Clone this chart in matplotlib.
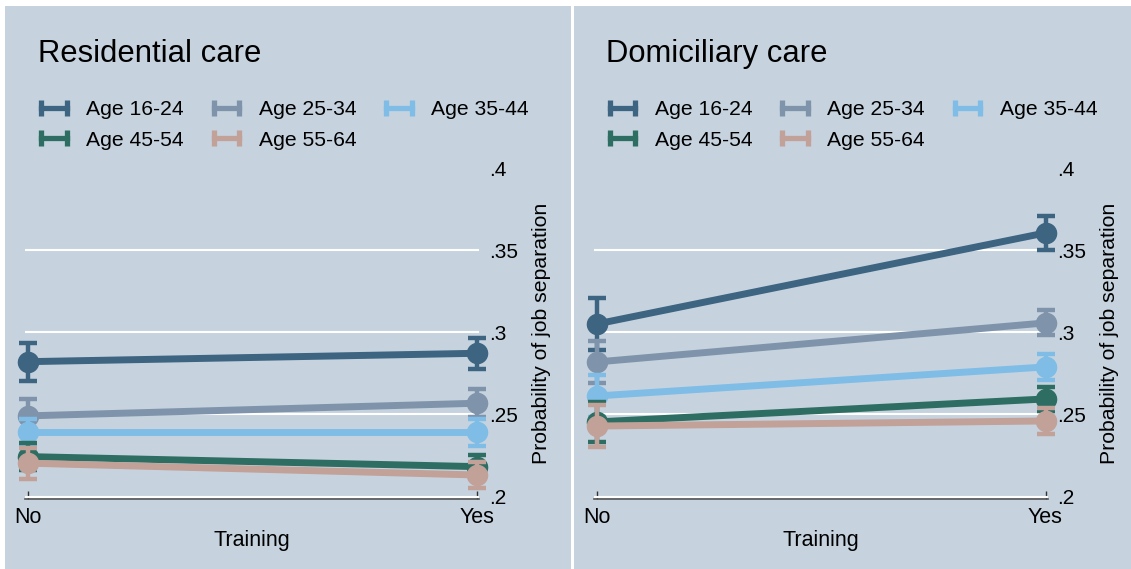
import matplotlib
matplotlib.use("Agg")
import matplotlib.pyplot as plt
from matplotlib.lines import Line2D
from matplotlib.patches import Rectangle

plt.rcParams['font.family'] = ['Liberation Sans', 'DejaVu Sans']

# ---- data ----
training = ["No", "Yes"]
age_groups = ["Age 16-24", "Age 25-34", "Age 35-44", "Age 45-54", "Age 55-64"]
colors = ["#3d6480", "#7f94ab", "#80bde6", "#2e6e62", "#c2a199"]

res_no = [0.2821, 0.2491, 0.2390, 0.2243, 0.2203]
res_yes = [0.2872, 0.2568, 0.2390, 0.2182, 0.2131]
res_ci_no = [0.0115, 0.0100, 0.0080, 0.0080, 0.0095]
res_ci_yes = [0.0094, 0.0085, 0.0083, 0.0070, 0.0080]

dom_no = [0.3050, 0.2819, 0.2612, 0.2454, 0.2429]
dom_yes = [0.3605, 0.3057, 0.2789, 0.2594, 0.2460]
dom_ci_no = [0.0160, 0.0130, 0.0130, 0.0120, 0.0130]
dom_ci_yes = [0.0103, 0.0076, 0.0080, 0.0072, 0.0080]

yticks = [0.2, 0.25, 0.3, 0.35, 0.4]
ytick_labels = [".2", ".25", ".3", ".35", ".4"]
panel_titles = ["Residential care", "Domiciliary care"]
ylabel = "Probability of job separation"
xlabel = "Training"

W, H = 1131, 569
BG = "#c6d3df"
fig = plt.figure(figsize=(W / 100, H / 100), dpi=100)
fig.patch.set_facecolor("white")


def fx(px):
    return px / W


def fy(py):
    return 1 - py / H


panels = [
    (res_no, res_yes, res_ci_no, res_ci_yes),
    (dom_no, dom_yes, dom_ci_no, dom_ci_yes),
]

# legend entries in row-major order for a 3-column legend
leg_order = [0, 3, 1, 4, 2]

for p, (vno, vyes, cno, cyes) in enumerate(panels):
    off = 568.5 * p
    # panel background
    fig.patches.append(Rectangle((fx(5 + off), 0), fx(566), fy(6),
                                 transform=fig.transFigure, facecolor=BG,
                                 edgecolor="none", zorder=-5))
    ax = fig.add_axes([fx(25 + off), fy(499), fx(454), (499 - 168) / H])
    ax.set_zorder(2)
    ax.set_facecolor("none")
    xs = [0, 1]
    for i, g in enumerate(age_groups):
        ys = [vno[i], vyes[i]]
        errs = [cno[i], cyes[i]]
        eb = ax.errorbar(xs, ys, yerr=errs, fmt="none", ecolor=colors[i],
                         elinewidth=3.2, capsize=6.8, capthick=3.2, zorder=3 + i)
        for art in eb.lines[1] + eb.lines[2]:
            art.set_clip_on(False)
        ax.plot(xs, ys, color=colors[i], lw=5, marker="o", markersize=14.5,
                solid_capstyle="butt", zorder=3 + i, clip_on=False)
    ax.set_xlim(-3 / 449, 1 + 2 / 449)
    ax.set_ylim(0.2 - 2.5 / 1655, 0.4)
    ax.set_xticks(xs)
    ax.set_xticklabels(training, fontsize=15.5)
    ax.tick_params(axis="x", direction="in", length=6, width=1, color="#333333", pad=6)
    ax.yaxis.tick_right()
    ax.set_yticks(yticks)
    ax.set_yticklabels(ytick_labels, fontsize=15)
    ax.tick_params(axis="y", length=0, pad=7)
    ax.yaxis.grid(True, color="white", lw=1.5, zorder=1)
    ax.set_axisbelow(True)
    ax.get_ygridlines()[-1].set_visible(False)
    for s in ["left", "right", "top"]:
        ax.spines[s].set_visible(False)
    ax.spines["bottom"].set_color("#555555")
    ax.spines["bottom"].set_linewidth(1.2)
    ax.set_xlabel(xlabel, fontsize=15.5, labelpad=1)
    ax.yaxis.set_label_position("right")
    ax.set_ylabel(ylabel, fontsize=15.3, rotation=90, labelpad=10)

    fig.text(fx(38 + off), fy(62), panel_titles[p], fontsize=22.3,
             va="baseline", ha="left", zorder=3)

    handles = [Line2D([0], [0], color=c, lw=3.8, marker="|", markersize=11,
                      markeredgewidth=3.8) for c in colors]
    ax.legend([handles[k] for k in leg_order], [age_groups[k] for k in leg_order],
              ncol=3, loc="upper left",
              bbox_to_anchor=(fx(35 + off), fy(100)),
              bbox_transform=fig.transFigure, frameon=False, fontsize=15.2,
              numpoints=2, handlelength=1.8, handletextpad=0.62,
              columnspacing=1.13, labelspacing=0.55, borderpad=0,
              borderaxespad=0)

# separator line between panels
fig.add_artist(Line2D([fx(572), fx(572)], [0, fy(6)], color="white", lw=1.2,
                      transform=fig.transFigure))

fig.savefig("out.png", dpi=100, facecolor="white")
